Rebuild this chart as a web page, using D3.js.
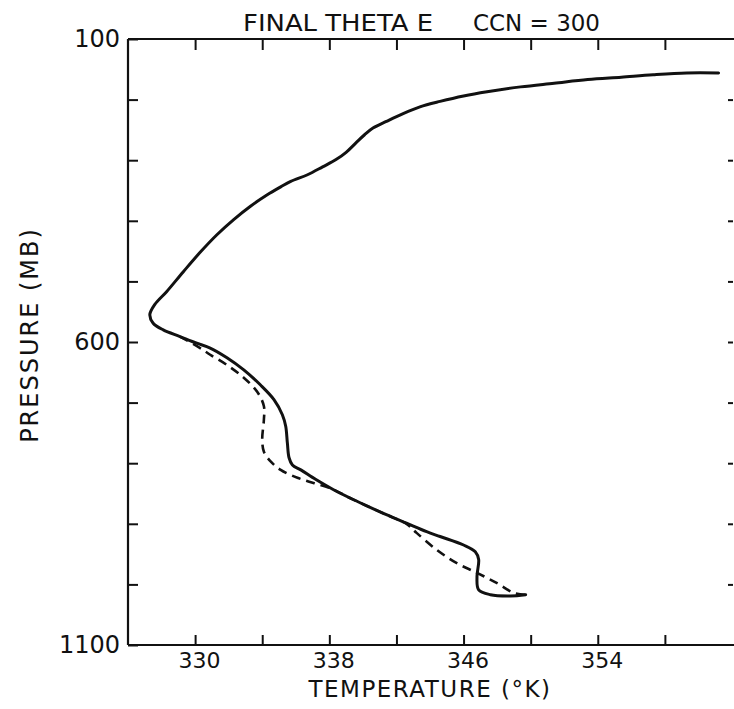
<!DOCTYPE html>
<html>
<head>
<meta charset="utf-8">
<script src="https://cdn.jsdelivr.net/npm/d3@7"></script>
<style>
  html, body { margin: 0; padding: 0; background: #fff; }
  svg { display: block; }
  text { font-family: "DejaVu Sans", "Liberation Sans", sans-serif; fill: #111; }
</style>
</head>
<body>
<svg id="chart" width="734" height="709"></svg>
<script>
// Final equivalent potential temperature profile, CCN = 300
const titleLeft = "FINAL THETA E";
const titleRight = "CCN = 300";
const xTitle = "TEMPERATURE (°K)";
const yTitle = "PRESSURE (MB)";

const xTicks = [330, 334, 338, 342, 346, 350, 354, 358];
const xTickLabels = [330, 338, 346, 354];
const yTicks = [100, 200, 300, 400, 500, 600, 700, 800, 900, 1000, 1100];
const yTickLabels = [100, 600, 1100];

// solid profile: temperature (K) and pressure (mb), top to bottom
const solidT = [361.2, 359.3, 357.3, 355.4, 353.4, 351.4, 349.4, 347.4, 346.0, 344.6,
  343.4, 342.4, 341.4, 340.6, 340.1, 339.6, 339.0, 338.4, 337.6, 336.7,
  335.7, 335.1, 334.3, 333.3, 332.3, 331.3, 330.3, 329.3, 328.3, 327.6,
  327.3, 327.5, 328.1, 329.1, 330.1, 330.9, 331.9, 332.9, 333.9, 334.7,
  335.2, 335.4, 335.5, 335.6, 335.8, 336.3, 337.2, 338.2, 339.2, 340.2,
  341.4, 342.6, 343.8, 344.6, 346.0, 346.7, 346.9, 346.8, 346.9, 347.6,
  348.8, 349.7];
const solidP = [156, 156, 159, 163, 167, 173, 179, 187, 194, 203,
  212, 223, 236, 247, 258, 271, 287, 299, 311, 324,
  335, 344, 357, 376, 398, 423, 452, 484, 517, 538,
  555, 569, 580, 591, 602, 610, 626, 646, 671, 695,
  720, 739, 767, 791, 803, 811, 827, 843, 857, 870,
  885, 899, 913, 921, 935, 946, 959, 987, 1009, 1017,
  1019, 1017];

// dashed profile (lower levels only)
const dashT = [329.1, 330.3, 330.9, 331.9, 332.9, 333.7, 334.1, 334.1, 334.0, 334.1,
  334.5, 335.1, 336.1, 337.1, 338.2, 339.2, 340.2, 341.4, 342.6, 343.2,
  344.4, 345.6, 346.8, 348.0, 349.0, 349.7];
const dashP = [591, 610, 621, 638, 659, 682, 706, 728, 761, 781,
  797, 811, 824, 833, 843, 857, 870, 885, 900, 915,
  943, 965, 981, 998, 1014, 1017];

const svg = d3.select("#chart");
const plotLeft = 128, plotRight = 732, plotTop = 39, plotBottom = 645;

const x = d3.scaleLinear().domain([326, 362]).range([plotLeft, plotRight]);
const y = d3.scaleLinear().domain([100, 1100]).range([plotTop, plotBottom]);

// frame lines (right side falls at the page edge)
const frame = svg.append("g").attr("stroke", "#111").attr("stroke-width", 2.2).attr("fill", "none");
frame.append("line").attr("x1", plotLeft).attr("x2", plotLeft).attr("y1", plotTop).attr("y2", plotBottom);
frame.append("line").attr("x1", plotLeft).attr("x2", 734).attr("y1", plotTop).attr("y2", plotTop);
frame.append("line").attr("x1", plotLeft).attr("x2", 734).attr("y1", plotBottom).attr("y2", plotBottom);

function styleAxis(g) {
  g.select(".domain").remove();
  g.selectAll(".tick line").attr("stroke", "#111").attr("stroke-width", 2);
  g.selectAll(".tick text").attr("font-size", 24).attr("fill", "#111");
}

// left axis, ticks pointing inward
svg.append("g")
  .attr("transform", `translate(${plotLeft},0)`)
  .call(d3.axisLeft(y).tickValues(yTicks).tickSize(-10).tickPadding(8)
    .tickFormat(d => yTickLabels.includes(d) ? d : ""))
  .call(styleAxis);

// right side ticks
svg.append("g")
  .attr("transform", `translate(${plotRight + 1},0)`)
  .call(d3.axisRight(y).tickValues(yTicks.slice(1, -1)).tickSize(-5).tickFormat(""))
  .call(styleAxis);

// bottom axis
svg.append("g")
  .attr("transform", `translate(0,${plotBottom})`)
  .call(d3.axisBottom(x).tickValues(xTicks).tickSize(-10).tickPadding(6)
    .tickFormat(d => xTickLabels.includes(d) ? d : ""))
  .call(styleAxis)
  .selectAll(".tick text").attr("font-size", 22).attr("dx", 4).attr("dy", "0.75em");

// top axis
svg.append("g")
  .attr("transform", `translate(0,${plotTop})`)
  .call(d3.axisTop(x).tickValues(xTicks).tickSize(-11).tickFormat(""))
  .call(styleAxis);

// profiles
const line = d3.line()
  .x(d => x(d[0]))
  .y(d => y(d[1]))
  .curve(d3.curveCatmullRom.alpha(0.5));

svg.append("path")
  .datum(solidT.map((t, i) => [t, solidP[i]]))
  .attr("d", line)
  .attr("fill", "none")
  .attr("stroke", "#111")
  .attr("stroke-width", 3)
  .attr("stroke-linejoin", "round")
  .attr("stroke-linecap", "round");

svg.append("path")
  .datum(dashT.map((t, i) => [t, dashP[i]]))
  .attr("d", line)
  .attr("fill", "none")
  .attr("stroke", "#111")
  .attr("stroke-width", 2.6)
  .attr("stroke-dasharray", "9,6");

// titles
svg.append("text").attr("x", 243).attr("y", 31).attr("font-size", 23)
  .attr("textLength", 190).attr("lengthAdjust", "spacingAndGlyphs").text(titleLeft);
svg.append("text").attr("x", 473).attr("y", 31).attr("font-size", 23)
  .attr("textLength", 127).attr("lengthAdjust", "spacingAndGlyphs").text(titleRight);

svg.append("text")
  .attr("x", 430).attr("y", 697)
  .attr("font-size", 23).attr("letter-spacing", 1.5)
  .attr("text-anchor", "middle")
  .text(xTitle);

svg.append("text")
  .attr("transform", "translate(38,335) rotate(-90)")
  .attr("font-size", 24).attr("letter-spacing", 2)
  .attr("text-anchor", "middle")
  .text(yTitle);
</script>
</body>
</html>
